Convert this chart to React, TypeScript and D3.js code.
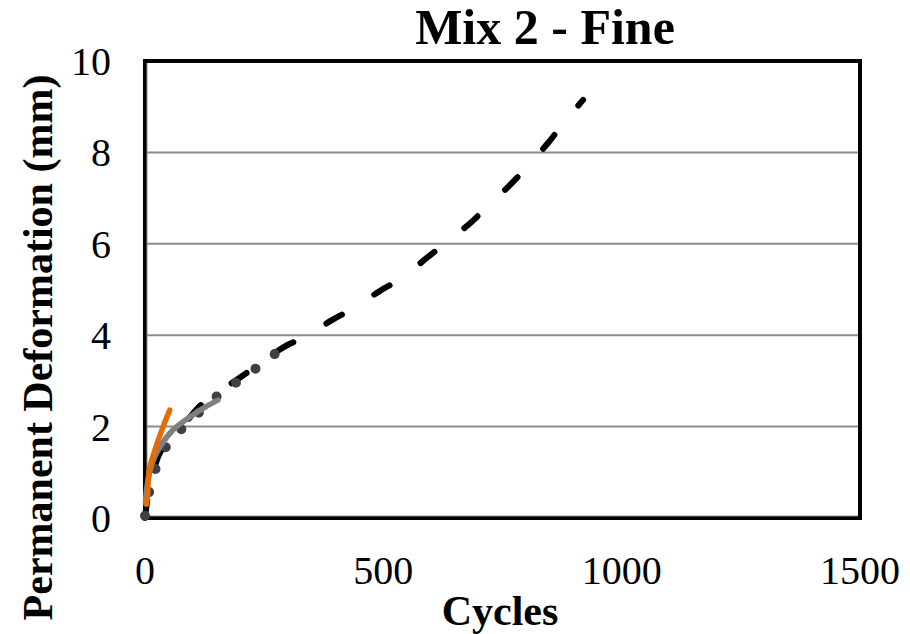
import * as d3 from 'd3';

const W = 910;
const H = 634;

const xTicks = [0, 500, 1000, 1500];
const yTicks = [0, 2, 4, 6, 8, 10];

// black dashed series
const blackCycles = [0, 3, 8, 15, 31, 49, 63, 90, 115, 136, 172, 214, 256, 298, 340, 392, 440, 493, 539, 591, 629, 682, 717, 766, 801, 845, 875, 919];
const blackDef = [0, 0.25, 0.6, 0.9, 1.42, 1.66, 1.8, 2.15, 2.45, 2.62, 2.88, 3.18, 3.5, 3.78, 3.98, 4.33, 4.6, 4.97, 5.25, 5.69, 6.0, 6.45, 6.8, 7.29, 7.68, 8.2, 8.6, 9.15];

// dark gray round-dot series
const dotCycles = [0, 4, 15, 31, 59, 94, 136, 172, 214, 256, 298];
const dotDef = [0.05, 0.33, 0.83, 1.31, 1.77, 2.1, 2.54, 2.82, 3.13, 3.46, 3.79];

// light gray solid series
const grayCycles = [1, 4, 15, 31, 59, 94, 125, 153];
const grayDef = [0.33, 0.68, 1.2, 1.55, 1.93, 2.21, 2.42, 2.58];

// orange solid series
const orangeCycles = [3, 5, 9, 21, 38, 52];
const orangeDef = [0.3, 0.46, 1.05, 1.49, 2.0, 2.36];

const left = 145;
const right = 860;
const top = 61;
const bottom = 518;

const x = d3.scaleLinear().domain([0, 1500]).range([left, right]);
const y = d3.scaleLinear().domain([0, 10]).range([bottom, top]);

const line = d3
  .line<[number, number]>()
  .x((d) => x(d[0]))
  .y((d) => y(d[1]))
  .curve(d3.curveCatmullRom.alpha(0.5));

const zip = (a: number[], b: number[]) => a.map((v, i) => [v, b[i]] as [number, number]);

export default function App() {
  return (
    <svg width={W} height={H} style={{ display: 'block', position: 'absolute', left: 0, top: 0 }}>
      <rect width={W} height={H} fill="#fff" />
      {yTicks.slice(1, -1).map((t) => (
        <line key={t} x1={left} x2={right} y1={y(t)} y2={y(t)} stroke="#8c8c8c" strokeWidth={2} />
      ))}
      <rect x={left} y={top} width={right - left} height={bottom - top} fill="none" stroke="#000" strokeWidth={4} />
      <line x1={left + 2} x2={left + 2} y1={top + 2} y2={bottom - 2} stroke="#8c8c8c" strokeWidth={1} />
      <line x1={left + 2} x2={right - 2} y1={bottom - 2} y2={bottom - 2} stroke="#8c8c8c" strokeWidth={1} />
      <path d={line(zip(blackCycles, blackDef)) ?? ''} fill="none" stroke="#000" strokeWidth={6}
        strokeLinecap="round" strokeDasharray="18,38" />
      <path d={line(zip(dotCycles, dotDef)) ?? ''} fill="none" stroke="#404040" strokeWidth={10}
        strokeLinecap="round" strokeDasharray="0,24" />
      <path d={line(zip(grayCycles, grayDef)) ?? ''} fill="none" stroke="#808080" strokeWidth={5.5}
        strokeLinecap="round" />
      <path d={line(zip(orangeCycles, orangeDef)) ?? ''} fill="none" stroke="#e36c09" strokeWidth={5.5}
        strokeLinecap="round" />
      <g fontFamily="'Liberation Serif', 'Times New Roman', serif" fill="#000">
        {yTicks.map((t) => (
          <text key={t} x={111} y={y(t)} dy="0.35em" textAnchor="end" fontSize={40}>{t}</text>
        ))}
        {xTicks.map((t) => (
          <text key={t} x={x(t)} y={584} textAnchor="middle" fontSize={40}>{t}</text>
        ))}
        <text x={545} y={44} textAnchor="middle" fontSize={50} fontWeight="bold">Mix 2 - Fine</text>
        <text x={500} y={625} textAnchor="middle" fontSize={42} fontWeight="bold">Cycles</text>
        <text transform={`translate(52, ${(top + bottom) / 2 + 58}) rotate(-90)`} textAnchor="middle"
          fontSize={42} fontWeight="bold">Permanent Deformation (mm)</text>
      </g>
    </svg>
  );
}
